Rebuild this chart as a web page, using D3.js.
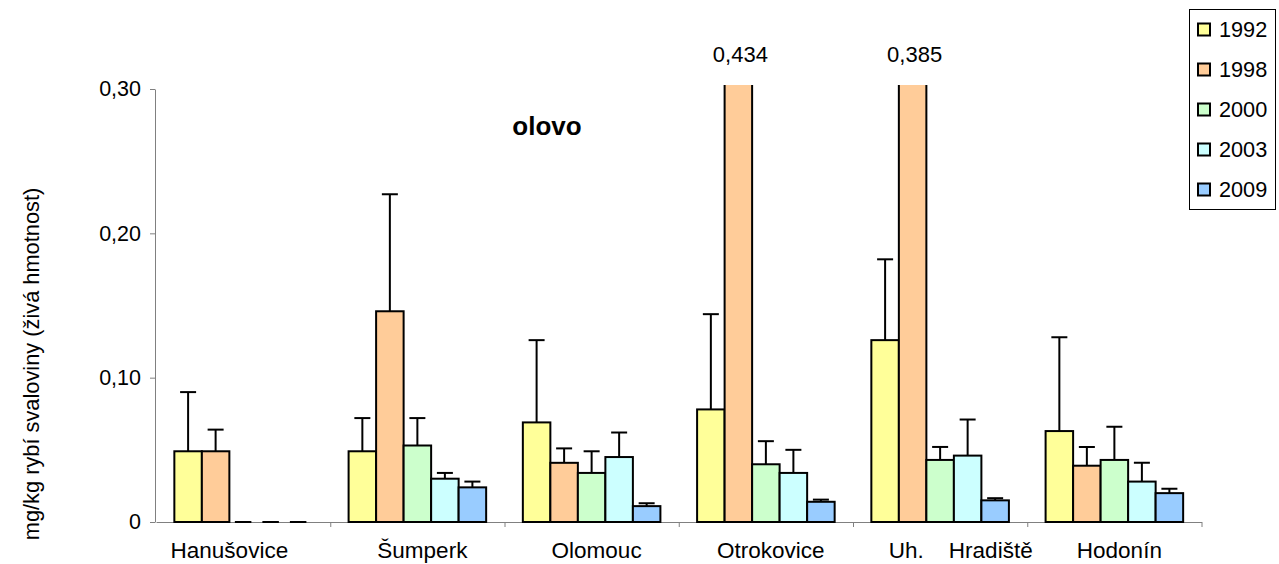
<!DOCTYPE html>
<html>
<head>
<meta charset="utf-8">
<script src="https://cdn.jsdelivr.net/npm/d3@7"></script>
<style>
  html, body { margin: 0; padding: 0; background: #fff; }
  svg { display: block; }
  text { font-family: Arial, "Liberation Sans", sans-serif; fill: #000; }
  .cat { white-space: pre; }
</style>
</head>
<body>
<svg id="chart" width="1279" height="564"></svg>
<script>
// Lead (olovo) in fish muscle, mg/kg wet weight, by site and sampling year
const categories = ["Hanušovice", "Šumperk", "Olomouc", "Otrokovice", "Uh. Hradiště", "Hodonín"];
// axis label text as set in the workbook (padding spaces included)
const categoryLabels = ["Hanušovice      ", "Šumperk", "Olomouc", "Otrokovice", "     Uh.    Hradiště", "Hodonín"];
const years = ["1992", "1998", "2000", "2003", "2009"];

const mean1992 = [0.049, 0.049, 0.069, 0.078, 0.126, 0.063];
const mean1998 = [0.049, 0.146, 0.041, 0.434, 0.385, 0.039];
const mean2000 = [0, 0.053, 0.034, 0.040, 0.043, 0.043];
const mean2003 = [0, 0.030, 0.045, 0.034, 0.046, 0.028];
const mean2009 = [0, 0.024, 0.011, 0.014, 0.015, 0.020];

// upper error (standard deviation); null = no error bar
const sd1992 = [0.041, 0.023, 0.057, 0.066, 0.056, 0.065];
const sd1998 = [0.015, 0.081, 0.010, null, null, 0.013];
const sd2000 = [null, 0.019, 0.015, 0.016, 0.009, 0.023];
const sd2003 = [null, 0.004, 0.017, 0.016, 0.025, 0.013];
const sd2009 = [null, 0.004, 0.002, 0.0015, 0.0015, 0.003];

const yTicks = [0, 0.10, 0.20, 0.30];
const yTitle = "mg/kg rybí svaloviny (živá hmotnost)";
const chartTitle = "olovo";

const colors = ["#FFFF99", "#FFCC99", "#CCFFCC", "#CCFFFF", "#99CCFF"];
const means = [mean1992, mean1998, mean2000, mean2003, mean2009];
const sds = [sd1992, sd1998, sd2000, sd2003, sd2009];

const rows = [];
categories.forEach((c, ci) => {
  years.forEach((yr, yi) => {
    rows.push({ cat: c, year: yr, yi, value: means[yi][ci], sd: sds[yi][ci] });
  });
});

const svg = d3.select("#chart");
const FONT = "21.5px";

const x0 = d3.scaleBand().domain(categories).range([156, 1201.5]).paddingInner(0).paddingOuter(0);
const x1 = d3.scaleBand().domain(years).range([0, x0.bandwidth()]).paddingInner(0).paddingOuter(0.667);
const y = d3.scaleLinear().domain([0, 0.30]).range([522, 89]);
const plotTop = 85;

const commaFmt = f => d => d === 0 ? "0" : d3.format(f)(d).replace(".", ",");

// clip region for bars that exceed the axis maximum
svg.append("defs").append("clipPath").attr("id", "plotClip")
  .append("rect")
  .attr("x", x0.range()[0]).attr("y", plotTop)
  .attr("width", x0.range()[1] - x0.range()[0])
  .attr("height", y(0) - plotTop + 2);

// Y axis
const yAxis = svg.append("g")
  .attr("transform", `translate(${x0.range()[0] - 1},0)`)
  .call(d3.axisLeft(y).tickValues(yTicks).tickFormat(commaFmt(".2f")).tickSize(5).tickPadding(9).tickSizeOuter(0));
yAxis.selectAll("path, line").attr("stroke", "#808080");
yAxis.selectAll("text").style("font-size", FONT).attr("font-family", null);

// X axis: line plus ticks at category boundaries
const idx = d3.scaleLinear().domain([0, categories.length]).range(x0.range());
const xAxis = svg.append("g")
  .attr("transform", `translate(0,${y(0)})`)
  .call(d3.axisBottom(idx).tickValues(d3.range(1, categories.length + 1)).tickFormat("").tickSize(5).tickSizeOuter(0));
xAxis.selectAll("path, line").attr("stroke", "#808080");

// category labels
svg.append("g").selectAll("text").data(categories).join("text")
  .attr("class", "cat")
  .attr("x", d => x0(d) + x0.bandwidth() / 2 + 5)
  .attr("y", 558)
  .attr("text-anchor", "middle")
  .style("font-size", "22.5px")
  .text((d, i) => categoryLabels[i]);

// bars
const barsG = svg.append("g").attr("clip-path", "url(#plotClip)");
const groups = barsG.selectAll("g").data(categories).join("g")
  .attr("transform", d => `translate(${x0(d)},0)`);

groups.selectAll("rect")
  .data(c => rows.filter(r => r.cat === c && r.value > 0))
  .join("rect")
  .attr("x", d => x1(d.year))
  .attr("y", d => y(d.value))
  .attr("width", x1.bandwidth())
  .attr("height", d => y(0) - y(d.value))
  .attr("fill", d => colors[d.yi])
  .attr("stroke", "#000")
  .attr("stroke-width", 2);

// zero-valued bars show only their outline on the axis
groups.selectAll("line.zero")
  .data(c => rows.filter(r => r.cat === c && r.value === 0))
  .join("line")
  .attr("class", "zero")
  .attr("x1", d => x1(d.year) + x1.bandwidth() * 0.2)
  .attr("x2", d => x1(d.year) + x1.bandwidth() * 0.8)
  .attr("y1", y(0)).attr("y2", y(0))
  .attr("stroke", "#000").attr("stroke-width", 2);

// error bars (upper only)
const capW = 16;
const err = groups.selectAll("g.err")
  .data(c => rows.filter(r => r.cat === c && r.sd != null && r.value > 0))
  .join("g").attr("class", "err");
err.append("line")
  .attr("x1", d => x1(d.year) + x1.bandwidth() / 2)
  .attr("x2", d => x1(d.year) + x1.bandwidth() / 2)
  .attr("y1", d => y(d.value))
  .attr("y2", d => y(d.value + d.sd))
  .attr("stroke", "#000").attr("stroke-width", 2);
err.append("line")
  .attr("x1", d => x1(d.year) + x1.bandwidth() / 2 - capW / 2)
  .attr("x2", d => x1(d.year) + x1.bandwidth() / 2 + capW / 2)
  .attr("y1", d => y(d.value + d.sd))
  .attr("y2", d => y(d.value + d.sd))
  .attr("stroke", "#000").attr("stroke-width", 2);

// value labels for bars beyond the axis range
svg.append("g").selectAll("text")
  .data(rows.filter(r => r.value > y.domain()[1]))
  .join("text")
  .attr("x", d => x0(d.cat) + x1(d.year) + x1.bandwidth() / 2 + 2)
  .attr("y", 62)
  .attr("text-anchor", "middle")
  .style("font-size", "22px")
  .text(d => commaFmt(".3f")(d.value));

// chart title
svg.append("text")
  .attr("x", 547).attr("y", 135)
  .attr("text-anchor", "middle")
  .style("font-size", "26px").style("font-weight", "bold")
  .text(chartTitle);

// y-axis title
svg.append("text")
  .attr("transform", "translate(31,364) rotate(-90)")
  .attr("text-anchor", "middle")
  .attr("dominant-baseline", "central")
  .style("font-size", "21.8px")
  .text(yTitle);

// legend
const lg = svg.append("g");
lg.append("rect")
  .attr("x", 1189.5).attr("y", 9.5).attr("width", 86).attr("height", 200)
  .attr("fill", "#fff").attr("stroke", "#000").attr("stroke-width", 1);
const item = lg.selectAll("g.item").data(years).join("g").attr("class", "item")
  .attr("transform", (d, i) => `translate(0,${29.5 + i * 40})`);
item.append("rect")
  .attr("x", 1198).attr("y", -6).attr("width", 12).attr("height", 12)
  .attr("fill", (d, i) => colors[i]).attr("stroke", "#000").attr("stroke-width", 2);
item.append("text")
  .attr("x", 1219).attr("y", 0)
  .attr("dominant-baseline", "central")
  .style("font-size", "21.7px")
  .text(d => d);
</script>
</body>
</html>
